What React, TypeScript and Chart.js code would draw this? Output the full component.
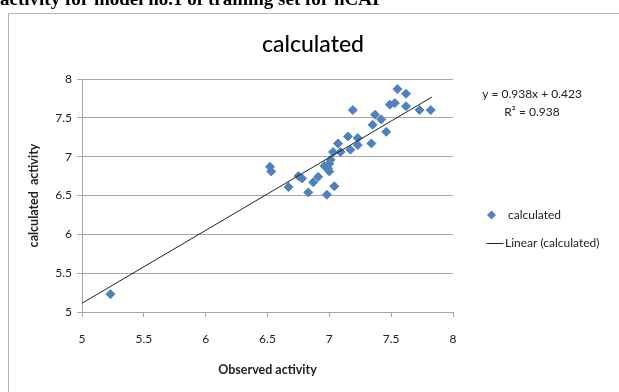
import React, { useEffect, useRef } from "react";
import { Chart, registerables } from "chart.js";

Chart.register(...registerables);

// ---- data ----
const observed = [
  5.23, 6.52, 6.53, 6.67, 6.75, 6.78, 6.83, 6.87, 6.91, 6.98, 7.04, 6.96, 6.99,
  7.0, 7.0, 7.01, 7.03, 7.07, 7.09, 7.15, 7.17, 7.23, 7.23, 7.19, 7.34, 7.35,
  7.37, 7.42, 7.46, 7.49, 7.53, 7.55, 7.62, 7.62, 7.73, 7.82,
];
const calculated = [
  5.23, 6.87, 6.81, 6.61, 6.75, 6.72, 6.54, 6.67, 6.74, 6.51, 6.62, 6.88, 6.85,
  6.81, 6.91, 6.96, 7.06, 7.17, 7.06, 7.26, 7.09, 7.24, 7.15, 7.6, 7.17, 7.41,
  7.54, 7.48, 7.32, 7.67, 7.69, 7.87, 7.81, 7.65, 7.6, 7.6,
];
const trendX = [5, 7.83];
const trendY = [5.113, 7.768];

const tickValues = [5, 5.5, 6, 6.5, 7, 7.5, 8];
const tickLabels = ["5", "5.5", "6", "6.5", "7", "7.5", "8"];

const headerText = "activity for model no.1 of training set for hCAI";
const chartTitle = "calculated";
const xTitle = "Observed activity";
const yTitle = "calculated  activity";
const equationLines = ["y = 0.938x + 0.423", "R\u00B2 = 0.938"];
const seriesLabel = "calculated";
const trendLabel = "Linear (calculated)";

const BLUE = "#4F81BD";
const GRID = "#a6a6a6";
const FONT = "Lato, 'Noto Sans', sans-serif";

const labelFor = (v: any) => {
  const i = tickValues.findIndex((t) => Math.abs(t - Number(v)) < 1e-6);
  return i >= 0 ? tickLabels[i] : "";
};

const extrasPlugin = {
  id: "extras",
  afterDraw(chart: any) {
    const ctx = chart.ctx as CanvasRenderingContext2D;
    ctx.save();
    // outer chart border
    ctx.strokeStyle = "#b4b4b4";
    ctx.lineWidth = 1;
    ctx.beginPath();
    ctx.moveTo(8.5, 392);
    ctx.lineTo(8.5, 13.5);
    ctx.lineTo(619, 13.5);
    ctx.stroke();

    // clipped header text from the surrounding document
    ctx.fillStyle = "#000";
    ctx.font = "bold 19px 'Liberation Serif', 'Times New Roman', serif";
    ctx.textAlign = "left";
    ctx.textBaseline = "alphabetic";
    ctx.fillText(headerText, 0, 5);

    // chart title
    ctx.font = `500 23px ${FONT}`;
    ctx.textAlign = "center";
    ctx.textBaseline = "middle";
    ctx.fillText(chartTitle, 313, 45);

    // trendline equation
    ctx.font = `12px ${FONT}`;
    ctx.fillStyle = "#222";
    ctx.fillText(equationLines[0], 532, 94);
    ctx.fillText(equationLines[1], 532, 112);

    // legend
    const dx = 491.5;
    const dy = 215;
    ctx.fillStyle = BLUE;
    ctx.beginPath();
    ctx.moveTo(dx - 4.5, dy);
    ctx.lineTo(dx, dy - 4.5);
    ctx.lineTo(dx + 4.5, dy);
    ctx.lineTo(dx, dy + 4.5);
    ctx.closePath();
    ctx.fill();
    ctx.fillStyle = "#222";
    ctx.textAlign = "left";
    ctx.fillText(seriesLabel, 508, dy);

    ctx.strokeStyle = "#222";
    ctx.beginPath();
    ctx.moveTo(486.5, 243.5);
    ctx.lineTo(503.5, 243.5);
    ctx.stroke();
    ctx.fillText(trendLabel, 505, 243);
    ctx.restore();
  },
};

export default function App() {
  const ref = useRef<HTMLCanvasElement>(null);
  useEffect(() => {
    if (!ref.current) return;
    const chart = new Chart(ref.current, {
      type: "scatter",
      data: {
        datasets: [
          {
            label: trendLabel,
            data: trendX.map((x, i) => ({ x, y: trendY[i] })),
            showLine: true,
            borderColor: "#222",
            borderWidth: 1,
            pointRadius: 0,
            order: 0,
          },
          {
            label: seriesLabel,
            data: observed.map((x, i) => ({ x, y: calculated[i] })),
            pointStyle: "rectRot",
            pointRadius: 4.5,
            backgroundColor: BLUE,
            borderColor: BLUE,
            borderWidth: 1,
            order: 1,
          },
        ],
      },
      options: {
        responsive: false,
        animation: false,
        layout: { padding: { left: 22, top: 79, right: 166, bottom: 0 } },
        plugins: {
          legend: { display: false },
          tooltip: { enabled: false },
          title: { display: false },
        },
        scales: {
          x: {
            type: "linear",
            min: tickValues[0],
            max: tickValues[tickValues.length - 1],
            afterFit: (s: any) => {
              s.height = 80;
            },
            afterBuildTicks: (s: any) => {
              s.ticks = tickValues.map((value) => ({ value }));
            },
            ticks: {
              color: "#222",
              font: { family: FONT, size: 12 },
              padding: 15,
              maxRotation: 0,
              callback: labelFor,
            },
            grid: {
              drawOnChartArea: false,
              drawTicks: true,
              tickLength: 5,
              color: GRID,
            },
            border: { color: GRID },
            title: {
              display: true,
              text: xTitle,
              color: "#222",
              font: { family: FONT, size: 12.5, weight: "bold" },
              padding: { top: 0, bottom: 15 },
            },
          },
          y: {
            type: "linear",
            min: tickValues[0],
            max: tickValues[tickValues.length - 1],
            afterFit: (s: any) => {
              s.width = 60;
            },
            afterBuildTicks: (s: any) => {
              s.ticks = tickValues.map((value) => ({ value }));
            },
            ticks: {
              color: "#222",
              font: { family: FONT, size: 12 },
              padding: 5,
              callback: labelFor,
            },
            grid: {
              drawTicks: true,
              tickLength: 5,
              color: GRID,
            },
            border: { color: GRID },
            title: {
              display: true,
              text: yTitle,
              color: "#222",
              font: { family: FONT, size: 12.5, weight: "bold" },
              padding: { top: 4, bottom: 0 },
            },
          },
        },
      },
      plugins: [extrasPlugin],
    });
    return () => chart.destroy();
  }, []);

  return (
    <div style={{ position: "absolute", left: 0, top: 0, width: 619, height: 392, background: "#fff" }}>
      <canvas ref={ref} width={619} height={392} style={{ display: "block", width: 619, height: 392 }} />
    </div>
  );
}
